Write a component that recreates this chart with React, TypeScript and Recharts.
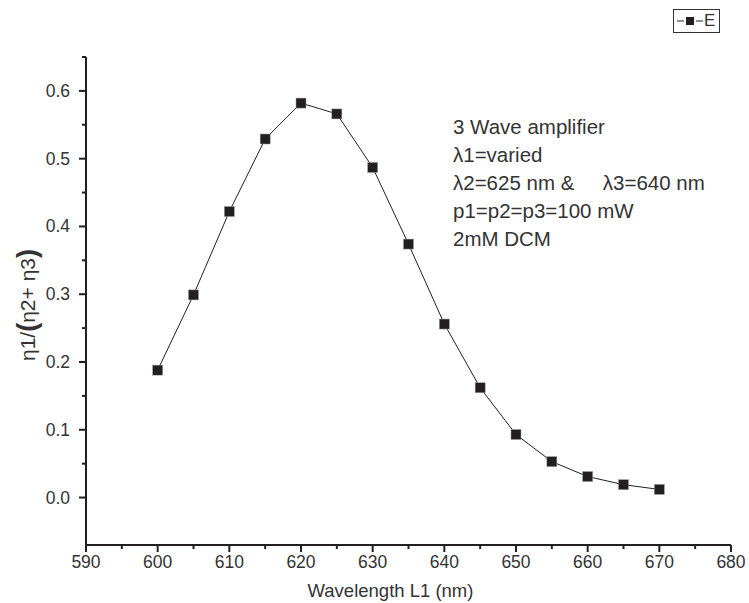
import React from "react";
import { LineChart, Line, XAxis, YAxis, Legend } from "recharts";

const wavelengths = [600, 605, 610, 615, 620, 625, 630, 635, 640, 645, 650, 655, 660, 665, 670];
const ratio = [0.188, 0.299, 0.422, 0.529, 0.582, 0.566, 0.487, 0.374, 0.256, 0.162, 0.093, 0.053, 0.031, 0.019, 0.012];

const xTicks = [590, 595, 600, 605, 610, 615, 620, 625, 630, 635, 640, 645, 650, 655, 660, 665, 670, 675, 680];
const yTicks = [0, 0.05, 0.1, 0.15, 0.2, 0.25, 0.3, 0.35, 0.4, 0.45, 0.5, 0.55, 0.6, 0.65];

const notes = [
  "3 Wave amplifier",
  "\u03bb1=varied",
  "\u03bb2=625 nm &\u00a0\u00a0\u00a0\u00a0\u00a0\u03bb3=640 nm",
  "p1=p2=p3=100 mW",
  "2mM DCM",
];

const data = wavelengths.map((w, i) => ({ w, r: ratio[i] }));

const FONT = '"Liberation Sans", Arial, sans-serif';
const INK = "#231f20";

const isMajorX = (v: number) => v % 10 === 0;
const isMajorY = (v: number) => Math.round(v * 100) % 10 === 0;

const XTick = (props: any) => {
  const { x, y, payload } = props;
  const major = isMajorX(payload.value);
  return (
    <g>
      <line x1={x} x2={x} y1={y} y2={y + (major ? 7 : 4)} stroke={INK} strokeWidth={2} />
      {major && (
        <text x={x} y={y + 23} textAnchor="middle" fontSize={17.5} fill="#333" fontFamily={FONT}>
          {payload.value}
        </text>
      )}
    </g>
  );
};

const YTick = (props: any) => {
  const { x, y, payload } = props;
  const major = isMajorY(payload.value);
  return (
    <g>
      <line x1={x - (major ? 7 : 4)} x2={x} y1={y} y2={y} stroke={INK} strokeWidth={2} />
      {major && (
        <text x={x - 16} y={y + 6} textAnchor="end" fontSize={17.5} fill="#333" fontFamily={FONT}>
          {payload.value.toFixed(1)}
        </text>
      )}
    </g>
  );
};

const SquareDot = (props: any) => {
  const { cx, cy, index } = props;
  return <rect key={index} x={cx - 5} y={cy - 5} width={10} height={10} fill={INK} stroke="#999" strokeWidth={0.5} />;
};

const YLabel = (props: any) => {
  const { viewBox } = props;
  const cx = viewBox.x + 27;
  const cy = viewBox.y + viewBox.height / 2 + 4;
  return (
    <text
      x={cx}
      y={cy}
      transform={`rotate(-90 ${cx} ${cy})`}
      textAnchor="middle"
      dominantBaseline="central"
      fontSize={21}
      fill="#333"
      fontFamily={FONT}
    >
      {"\u03b71/"}
      <tspan fontSize={27} fontWeight="bold">(</tspan>
      {"\u03b72+ \u03b73"}
      <tspan fontSize={27} fontWeight="bold">)</tspan>
    </text>
  );
};

const XLabel = (props: any) => {
  const { viewBox } = props;
  return (
    <text
      x={viewBox.x + viewBox.width / 2 - 18}
      y={viewBox.y + 52}
      textAnchor="middle"
      fontSize={18.5}
      fill="#333"
      fontFamily={FONT}
    >
      Wavelength L1 (nm)
    </text>
  );
};

const LegendBox = () => (
  <div
    style={{
      border: "1px solid #333",
      width: 47,
      height: 24,
      boxSizing: "border-box",
      display: "flex",
      alignItems: "center",
      fontFamily: FONT,
      fontSize: 17,
      color: "#333",
      background: "#fff",
    }}
  >
    <svg width={30} height={20}>
      <line x1={3} x2={10} y1={10} y2={10} stroke={INK} strokeWidth={1} />
      <rect x={12} y={6} width={8} height={8} fill={INK} />
      <line x1={22} x2={29} y1={10} y2={10} stroke={INK} strokeWidth={1} />
    </svg>
    <span>E</span>
  </div>
);

export default function App() {
  return (
    <div style={{ position: "absolute", left: 0, top: 0, width: 749, height: 603, background: "#fff" }}>
      <LineChart width={749} height={603} data={data} margin={{ top: 57, right: 18, bottom: 0, left: 0 }}>
        <XAxis
          dataKey="w"
          type="number"
          domain={[590, 680]}
          ticks={xTicks}
          interval={0}
          height={58}
          tickSize={0}
          tickMargin={0}
          tickLine={false}
          tick={<XTick />}
          axisLine={{ stroke: INK, strokeWidth: 2 }}
          label={<XLabel />}
        />
        <YAxis
          type="number"
          domain={[-0.07, 0.65]}
          ticks={yTicks}
          interval={0}
          width={86}
          tickSize={0}
          tickMargin={0}
          tickLine={false}
          tick={<YTick />}
          axisLine={{ stroke: INK, strokeWidth: 2 }}
          label={<YLabel />}
          allowDataOverflow
        />
        <Legend
          layout="horizontal"
          verticalAlign="middle"
          align="center"
          wrapperStyle={{ position: "absolute", top: 9, left: 673, width: 47 }}
          content={<LegendBox />}
        />
        <Line
          dataKey="r"
          name="E"
          type="linear"
          stroke={INK}
          strokeWidth={1}
          dot={<SquareDot />}
          activeDot={false}
          isAnimationActive={false}
        />
      </LineChart>
      <div
        style={{
          position: "absolute",
          left: 453,
          top: 113,
          fontFamily: FONT,
          fontSize: 20.5,
          lineHeight: "28px",
          color: "#333",
          whiteSpace: "nowrap",
        }}
      >
        {notes.map((n) => (
          <div key={n}>{n}</div>
        ))}
      </div>
    </div>
  );
}
